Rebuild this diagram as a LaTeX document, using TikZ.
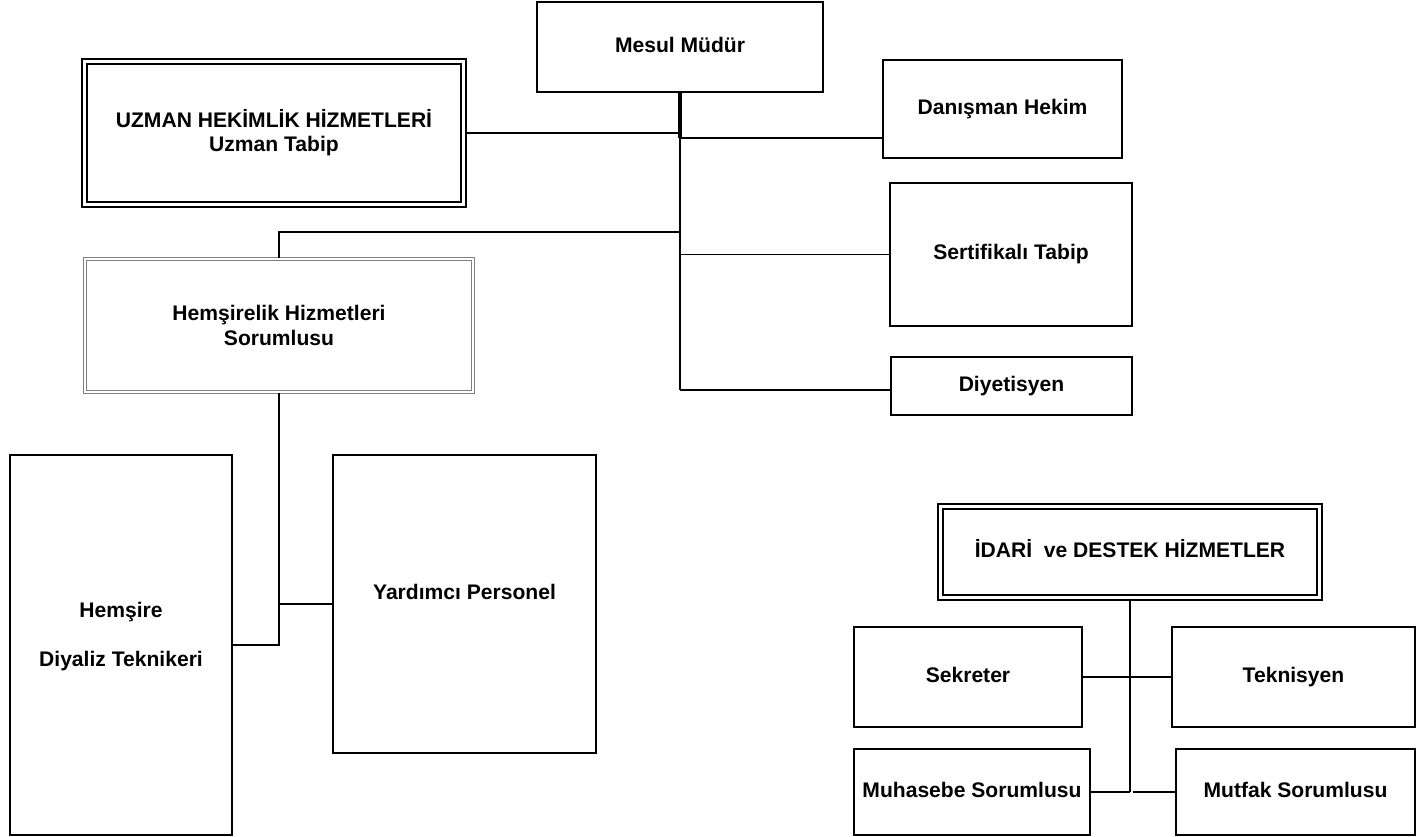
\documentclass[tikz,border=0pt]{standalone}
\usepackage{fontspec}
\setmainfont{Liberation Sans}
\usetikzlibrary{calc,positioning}
\def\pxu{0.02cm}
\tikzset{
  box/.style={draw,line width=1pt,align=center,inner sep=2pt,
    font=\fontsize{12}{13.5}\selectfont\bfseries},
  one/.style={text height=1.6ex,text depth=0.45ex},
  dbox/.style={box,double,line width=1.2pt,double distance=1.4pt},
  gbox/.style={box,draw=gray,double,line width=0.6pt,double distance=0.7pt},
  link/.style={line width=1pt},
  trunk/.style={line width=2pt}
}

\begin{document}
\begin{tikzpicture}[x=0.02cm,y=-0.02cm]
  \useasboundingbox (0,0) rectangle (1417,836);

  % Management
  \node[box,one,minimum width=286*\pxu,minimum height=90*\pxu] (mesul) at (680,47) {Mesul Müdür};
  \node[dbox,minimum width=379*\pxu,minimum height=143*\pxu] (uzman) at (274,133)
       {UZMAN HEKİMLİK HİZMETLERİ\\Uzman Tabip};
  \node[box,one,minimum width=239*\pxu,minimum height=98*\pxu] (danisman) at (1002.5,109) {Danışman Hekim};
  \node[box,one,minimum width=242*\pxu,minimum height=143*\pxu] (sertifika) at (1011,254.5) {Sertifikalı Tabip};
  \node[box,one,minimum width=241*\pxu,minimum height=58*\pxu] (diyet) at (1011.5,386) {Diyetisyen};

  % Nursing
  \node[gbox,minimum width=388*\pxu,minimum height=133*\pxu,font=\fontsize{12}{14.5}\selectfont\bfseries]
       (hemsorum) at (279,325.5) {Hemşirelik Hizmetleri\\Sorumlusu};
  \node[box,text depth=0.42cm,minimum width=222*\pxu,minimum height=380*\pxu] (hemsire) at (121,645)
       {Hemşire\\[14.5pt]Diyaliz Teknikeri};
  \node[box,text depth=0.47cm,minimum width=263*\pxu,minimum height=298*\pxu] (yardimci) at (464.5,604)
       {Yardımcı Personel};

  % Administration and support
  \node[dbox,one,minimum width=379*\pxu,minimum height=91*\pxu] (idari) at (1130,552)
       {İDARİ~ ve DESTEK HİZMETLER};
  \node[box,one,minimum width=228*\pxu,minimum height=100*\pxu] (sekreter) at (968,677) {Sekreter};
  \node[box,one,minimum width=243*\pxu,minimum height=100*\pxu] (teknisyen) at (1293.5,677) {Teknisyen};
  \node[box,one,minimum width=236*\pxu,minimum height=86*\pxu] (muhasebe) at (972,792) {Muhasebe Sorumlusu};
  \node[box,one,minimum width=239*\pxu,minimum height=86*\pxu] (mutfak) at (1295.5,792) {Mutfak Sorumlusu};

  % Junctions
  \coordinate (j1) at ($(mesul.south)+(0,45)$);
  \coordinate (j2) at ($(mesul.south)+(0,139)$);
  \coordinate (j3) at (mesul.south |- diyet.west);
  \coordinate (j3) at ($(j3)+(0,4)$);
  \coordinate (j4) at (hemsorum.south |- yardimci.west);
  \coordinate (j5) at (hemsorum.south |- hemsire.east);
  \coordinate (j6) at (idari.south |- muhasebe.east);

  % Links from Mesul Müdür
  \draw[trunk] (mesul.south) -- (j1);
  \draw[link] (j1) -- (j3);
  \draw[link] (uzman.east) -- (uzman.east -| mesul.south);
  \draw[link] (j1) -- (j1 -| danisman.west);
  \draw[link] (j2) -- (j2 -| hemsorum.north) -- (hemsorum.north);
  \draw[link] (sertifika.west -| j1) -- (sertifika.west);
  \draw[link] (j3) -- (j3 -| diyet.west);

  % Links under nursing
  \draw[link] (hemsorum.south) -- (j5) -- (hemsire.east);
  \draw[link] (j4) -- (yardimci.west);

  % Links under administration
  \draw[link] (idari.south) -- (j6);
  \draw[link] (sekreter.east) -- (teknisyen.west);
  \draw[link] (muhasebe.east) -- (j6);
  \draw[link] ($(j6)+(3,0)$) -- (mutfak.west);
\end{tikzpicture}
\end{document}
